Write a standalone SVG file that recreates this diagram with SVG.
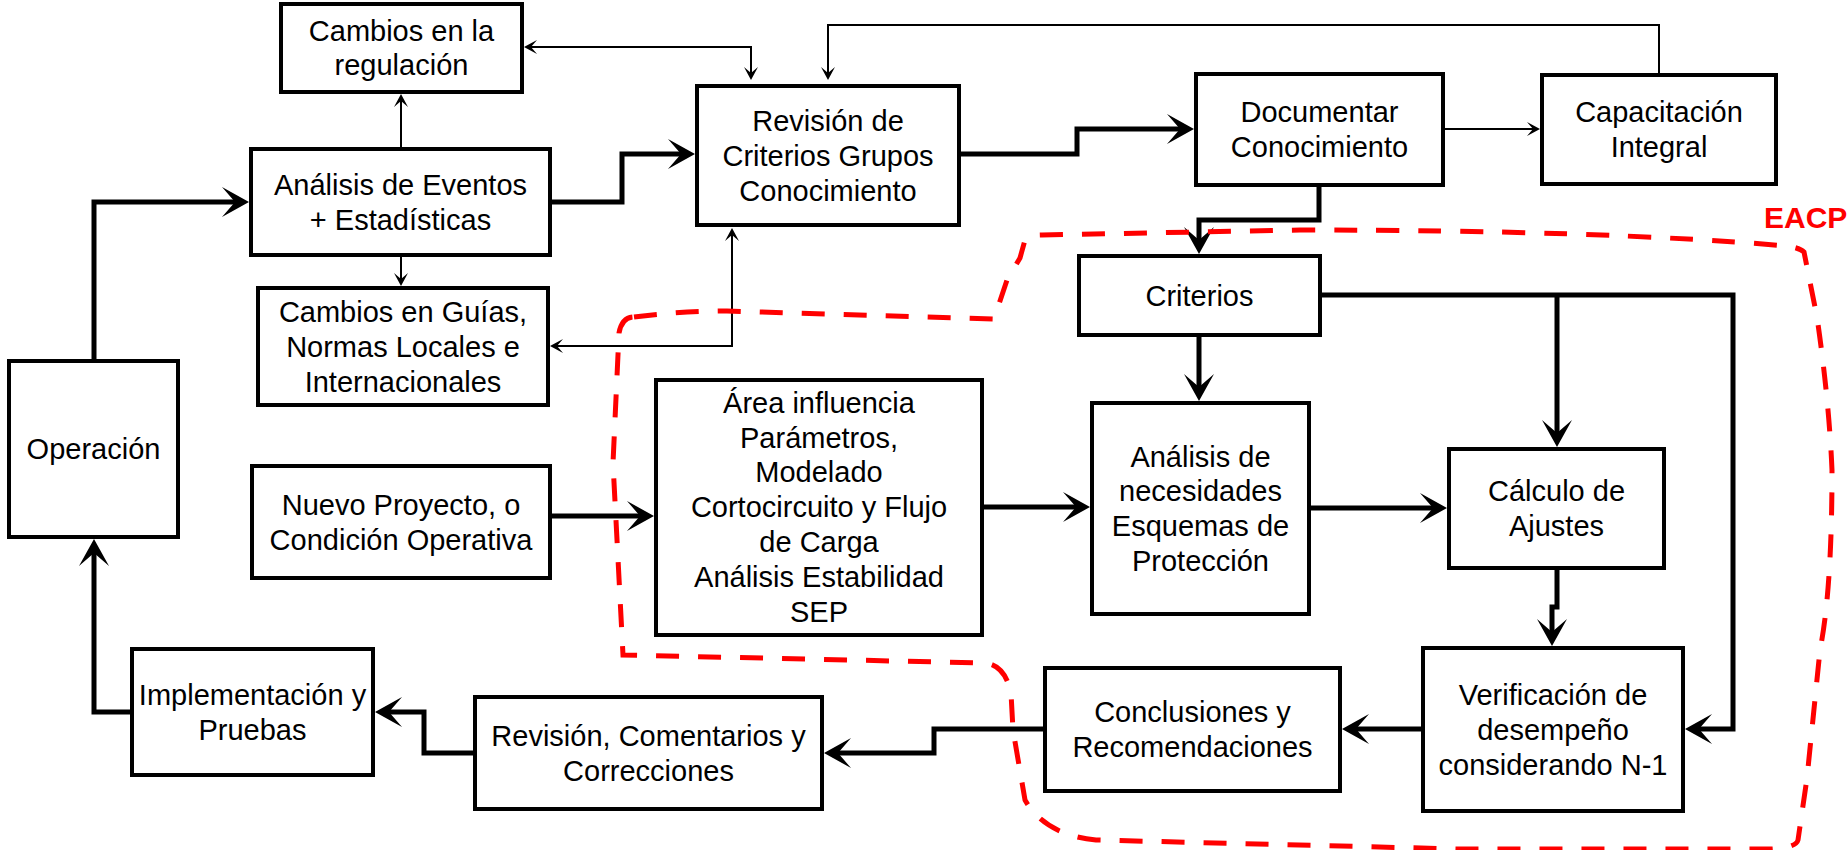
<svg xmlns="http://www.w3.org/2000/svg" width="1848" height="850" viewBox="0 0 1848 850">
<style>
.box{fill:#fff;stroke:#000;stroke-width:4}
.t{font-family:"Liberation Sans",Arial,sans-serif;font-size:29px;fill:#000;text-anchor:middle}
.thick{fill:none;stroke:#000;stroke-width:5;marker-end:url(#ab)}
.thin{fill:none;stroke:#000;stroke-width:2;marker-end:url(#as)}
.both{marker-start:url(#as)}
.eacp{fill:none;stroke:#ff0000;stroke-width:5;stroke-dasharray:23 19}
</style>
<defs>
<marker id="ab" markerWidth="28" markerHeight="30" refX="13" refY="15" orient="auto-start-reverse" markerUnits="userSpaceOnUse" overflow="visible"><path d="M0,0 L27,15 L0,30 L13,15 Z" fill="#000"/></marker>
<marker id="as" markerWidth="14" markerHeight="14" refX="6" refY="7" orient="auto-start-reverse" markerUnits="userSpaceOnUse" overflow="visible"><path d="M0,0 L13,7 L0,14 L6,7 Z" fill="#000"/></marker>
</defs>
<rect width="1848" height="850" fill="#fff"/>
<g id="connectors">
<path class="thick" d="M94,359 V202 H235"/>
<path class="thick" d="M552,202 H622 V154 H681"/>
<path class="thick" d="M961,154 H1077 V129 H1180"/>
<path class="thick" d="M1319,187 V220 H1199 V240"/>
<path class="thick" d="M1199,337 V387"/>
<path class="thick" d="M1322,295 H1733 V729 H1699"/>
<path class="thick" d="M1557,295 V433"/>
<path class="thick" d="M984,507 H1076"/>
<path class="thick" d="M1311,508 H1433"/>
<path class="thick" d="M1557,570 V607 H1552 V632"/>
<path class="thick" d="M1421,729 H1356"/>
<path class="thick" d="M1043,729 H934 V753 H838"/>
<path class="thick" d="M473,753 H424 V712 H389"/>
<path class="thick" d="M130,712 H94 V553"/>
<path class="thick" d="M552,516 H640"/>
<path class="thin" d="M401,147 V101"/>
<path class="thin" d="M401,257 V279"/>
<path class="thin both" d="M531,47 H751 V73"/>
<path class="thin both" d="M557,346 H732 V235"/>
<path class="thin" d="M1445,129 H1533"/>
<path class="thin" d="M1659,73 V25 H828 V73"/>
</g>
<g id="eacp">
<path class="eacp" d="M634,317 Q680,311 727,311 L994,319 L1007,280 L1020,258 L1025,240 Q1028,235 1042,235 L1300,230 Q1600,230 1787,246 Q1800,248 1804,252 L1817,317 Q1829,400 1832,470 Q1832,590 1820,650 L1807,778 L1798,840 Q1796,848 1770,849 L1460,849 L1096,840 Q1045,835 1025,800 L1013,730 L1011,693 Q1005,665 985,663 L623,655 L613,463 L619,333 Q622,317 634,317 Z"/>
<text x="1764" y="228" font-family="Liberation Sans, Arial, sans-serif" font-size="30" font-weight="bold" fill="#ff0000">EACP</text>
</g>
<g id="n-reg"><rect class="box" x="281" y="4" width="241" height="88"/><text class="t" x="401.5" y="40.6">Cambios en la</text><text class="t" x="401.5" y="75.4">regulación</text></g>
<g id="n-evt"><rect class="box" x="251" y="149" width="299" height="106"/><text class="t" x="400.5" y="194.8">Análisis de Eventos</text><text class="t" x="400.5" y="229.6">+ Estadísticas</text></g>
<g id="n-guias"><rect class="box" x="258" y="288" width="290" height="117"/><text class="t" x="403" y="321.9">Cambios en Guías,</text><text class="t" x="403" y="356.7">Normas Locales e</text><text class="t" x="403" y="391.5">Internacionales</text></g>
<g id="n-oper"><rect class="box" x="9" y="361" width="169" height="176"/><text class="t" x="93.5" y="459.2">Operación</text></g>
<g id="n-rev"><rect class="box" x="697" y="86" width="262" height="139"/><text class="t" x="828" y="130.9">Revisión de</text><text class="t" x="828" y="165.7">Criterios Grupos</text><text class="t" x="828" y="200.5">Conocimiento</text></g>
<g id="n-doc"><rect class="box" x="1196" y="74" width="247" height="111"/><text class="t" x="1319.5" y="122.3">Documentar</text><text class="t" x="1319.5" y="157.1">Conocimiento</text></g>
<g id="n-cap"><rect class="box" x="1542" y="75" width="234" height="109"/><text class="t" x="1659" y="122.3">Capacitación</text><text class="t" x="1659" y="157.1">Integral</text></g>
<g id="n-crit"><rect class="box" x="1079" y="256" width="241" height="79"/><text class="t" x="1199.5" y="305.7">Criterios</text></g>
<g id="n-area"><rect class="box" x="656" y="380" width="326" height="255"/><text class="t" x="819" y="412.8">Área influencia</text><text class="t" x="819" y="447.6">Parámetros,</text><text class="t" x="819" y="482.4">Modelado</text><text class="t" x="819" y="517.2">Cortocircuito y Flujo</text><text class="t" x="819" y="552">de Carga</text><text class="t" x="819" y="586.8">Análisis Estabilidad</text><text class="t" x="819" y="621.6">SEP</text></g>
<g id="n-nec"><rect class="box" x="1092" y="403" width="217" height="211"/><text class="t" x="1200.5" y="466.5">Análisis de</text><text class="t" x="1200.5" y="501.3">necesidades</text><text class="t" x="1200.5" y="536.1">Esquemas de</text><text class="t" x="1200.5" y="570.9">Protección</text></g>
<g id="n-calc"><rect class="box" x="1449" y="449" width="215" height="119"/><text class="t" x="1556.5" y="501.3">Cálculo de</text><text class="t" x="1556.5" y="536.1">Ajustes</text></g>
<g id="n-verif"><rect class="box" x="1423" y="648" width="260" height="163"/><text class="t" x="1553" y="705">Verificación de</text><text class="t" x="1553" y="739.8">desempeño</text><text class="t" x="1553" y="774.6">considerando N-1</text></g>
<g id="n-concl"><rect class="box" x="1045" y="668" width="295" height="123"/><text class="t" x="1192.5" y="722.3">Conclusiones y</text><text class="t" x="1192.5" y="757.1">Recomendaciones</text></g>
<g id="n-revc"><rect class="box" x="475" y="697" width="347" height="112"/><text class="t" x="648.5" y="746">Revisión, Comentarios y</text><text class="t" x="648.5" y="780.8">Correcciones</text></g>
<g id="n-impl"><rect class="box" x="132" y="649" width="241" height="126"/><text class="t" x="252.5" y="705">Implementación y</text><text class="t" x="252.5" y="739.8">Pruebas</text></g>
<g id="n-nuevo"><rect class="box" x="252" y="466" width="298" height="112"/><text class="t" x="401" y="514.8">Nuevo Proyecto, o</text><text class="t" x="401" y="549.6">Condición Operativa</text></g>
</svg>
